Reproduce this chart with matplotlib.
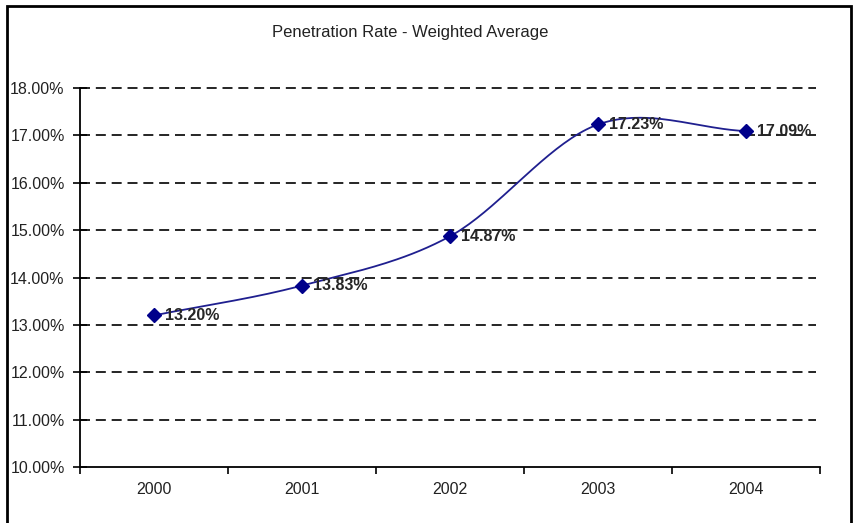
import numpy as np
import matplotlib.pyplot as plt
from matplotlib.patches import Rectangle
from matplotlib.ticker import FuncFormatter

plt.rcParams['font.family'] = ['Liberation Sans', 'DejaVu Sans']

years = ['2000', '2001', '2002', '2003', '2004']
rates = [13.20, 13.83, 14.87, 17.23, 17.09]
labels = ['13.20%', '13.83%', '14.87%', '17.23%', '17.09%']


def smooth(xs, ys, n=40):
    # Catmull-Rom spline, roughly like Excel's "smoothed line"
    px = np.concatenate([[2 * xs[0] - xs[1]], xs, [2 * xs[-1] - xs[-2]]])
    py = np.concatenate([[2 * ys[0] - ys[1]], ys, [2 * ys[-1] - ys[-2]]])
    ox, oy = [], []
    t = np.linspace(0, 1, n)
    for i in range(1, len(px) - 2):
        for p, o in ((px, ox), (py, oy)):
            p0, p1, p2, p3 = p[i - 1], p[i], p[i + 1], p[i + 2]
            o.extend(0.5 * (2 * p1 + (-p0 + p2) * t
                            + (2 * p0 - 5 * p1 + 4 * p2 - p3) * t ** 2
                            + (-p0 + 3 * p1 - 3 * p2 + p3) * t ** 3))
    return np.array(ox), np.array(oy)


fig = plt.figure(figsize=(8.58, 5.23), dpi=100)
ax = fig.add_axes([80 / 858, 1 - 467 / 523, 740 / 858, 379 / 523])

x = np.arange(len(years))
sx, sy = smooth(x.astype(float), np.array(rates))
ax.plot(sx, sy, color='#1f1f8f', lw=1.3, zorder=3)
ax.plot(x, rates, ls='none', marker='D', ms=7, color='#00008b', zorder=4)
for xi, yi, lab in zip(x, rates, labels):
    ax.annotate(lab, (xi, yi), xytext=(8, 0), textcoords='offset points',
                va='center', ha='left', fontsize=11.5, fontweight='bold',
                color='#262626', zorder=5)

ax.set_xlim(-0.5, 4.5)
ax.set_ylim(10, 18)
ax.set_yticks(np.arange(10, 18.5, 1))
ax.yaxis.set_major_formatter(FuncFormatter(lambda v, p: f'{v:.2f}%'))
for v in np.arange(11, 18.5, 1):
    ax.axhline(v, color='black', ls=(0, (6, 3.5)), lw=1.2, clip_on=False,
               xmax=1 - 4 / 740, zorder=1)

ax.set_xticks(np.arange(-0.5, 5, 1))
ax.set_xticklabels([])
ax.set_xticks(x, minor=True)
ax.set_xticklabels(years, minor=True)
ax.tick_params(axis='x', which='major', direction='out', length=5, width=1.2)
ax.tick_params(axis='x', which='minor', length=0, pad=11, labelsize=11.5,
               labelcolor='#222222')
ax.tick_params(axis='y', direction='inout', length=10, width=1.2, labelsize=11.5,
               pad=6, labelcolor='#222222')

for s in ('top', 'right'):
    ax.spines[s].set_visible(False)
ax.spines['left'].set_linewidth(1.3)
ax.spines['bottom'].set_linewidth(1.3)

fig.text(410 / 858, 1 - 32 / 523, 'Penetration Rate - Weighted Average',
         ha='center', va='center', fontsize=12, color='#222222')

fig.patches.append(Rectangle((7 / 858, -0.05), 844 / 858, 1.05 - 6 / 523,
                             transform=fig.transFigure, fill=False,
                             edgecolor='black', lw=2))

fig.savefig('out.png', dpi=100)
